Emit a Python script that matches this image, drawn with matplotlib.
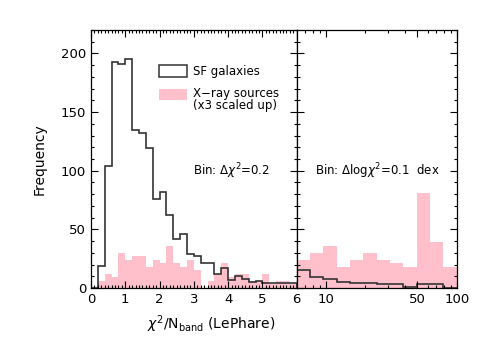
import numpy as np
import matplotlib
matplotlib.use("Agg")
import matplotlib.pyplot as plt
from matplotlib.patches import Rectangle
from matplotlib.ticker import MultipleLocator, FixedLocator, NullFormatter

# linear chi2 bins (0 -> 6, step 0.2)
lin_edges = np.round(np.arange(0, 6.01, 0.2), 2)
sf_lin = [0, 19, 104, 193, 191, 195, 135, 132, 119, 76,
          82, 62, 42, 46, 29, 27, 21, 21, 12, 17,
          7, 10, 8, 5, 6, 4, 4, 4.5, 4.5, 4]
xray_lin = [0, 6, 12, 9, 30, 24, 27, 27, 18, 24,
            21, 36, 21, 18, 24, 15, 0, 6, 12, 21,
            9, 12, 12, 6, 6, 12, 3, 6, 6, 3]

# log chi2 bins (6 -> 100)
log_edges = np.geomspace(6, 100, 13)
sf_log = [15, 9, 7.5, 5.5, 4.5, 4, 3.5, 3, 0.6, 3, 3, 0]
xray_log = [24, 30, 36, 18, 24, 30, 24, 21, 18, 81, 39, 18]

plt.rcParams['font.family'] = ['DejaVu Sans']
fig = plt.figure(figsize=(4.85, 3.46), dpi=100)
ax1 = fig.add_axes([0.1876, 0.1676, 0.4241, 0.7457])
ax2 = fig.add_axes([0.6118, 0.1676, 0.3299, 0.7457])

ax1.stairs(xray_lin, lin_edges, fill=True, color="pink", lw=0)
ax1.stairs(sf_lin, lin_edges, color="#333333", lw=1.2)
ax2.stairs(xray_log, log_edges, fill=True, color="pink", lw=0)
ax2.stairs(sf_log, log_edges, color="#333333", lw=1.2)

for ax in (ax1, ax2):
    ax.set_ylim(0, 220)
    ax.yaxis.set_major_locator(MultipleLocator(50))
    ax.yaxis.set_minor_locator(MultipleLocator(10))
    ax.tick_params(which="both", direction="in", top=True, right=True,
                   labelsize=9.5, width=0.8)
    ax.tick_params(which="major", length=5)
    ax.tick_params(which="minor", length=2.5)
    for sp in ax.spines.values():
        sp.set_linewidth(0.9)

ax1.set_xlim(0, 6)
ax1.xaxis.set_major_locator(MultipleLocator(1))
ax1.xaxis.set_minor_locator(MultipleLocator(0.1))
ax1.set_ylabel("Frequency", fontsize=10, labelpad=10)

ax2.set_xscale("log")
ax2.set_xlim(6, 100)
ax2.xaxis.set_major_locator(FixedLocator([10, 50, 100]))
ax2.xaxis.set_minor_locator(FixedLocator([7, 8, 9, 20, 30, 40, 60, 70, 80, 90]))
ax2.xaxis.set_minor_formatter(NullFormatter())
ax2.set_xticklabels(["10", "50", "100"])
ax2.tick_params(axis="y", labelleft=False)

# legend drawn by hand
ax1.add_patch(Rectangle((1.99, 180), 0.82, 10, facecolor="none", edgecolor="#333333", lw=1.1))
ax1.text(2.98, 185, "SF galaxies", fontsize=8.5, va="center")
ax1.add_patch(Rectangle((1.99, 160), 0.82, 10, facecolor="pink", edgecolor="none"))
ax1.text(2.98, 166, "X\u2212ray sources", fontsize=8.5, va="center")
ax1.text(2.98, 156, "(x3 scaled up)", fontsize=8.5, va="center")
ax1.text(2.98, 100, r"Bin: $\Delta\chi^2$=0.2", fontsize=8.5, va="center")
ax2.text(8.3, 100, r"Bin: $\Delta$log$\chi^2$=0.1  dex", fontsize=8.5, va="center")

fig.text(0.435, 0.062, r"$\chi^2$/N$_\mathrm{band}$ (LePhare)", fontsize=10, ha="center", va="center")

fig.savefig("out.png", dpi=100)
